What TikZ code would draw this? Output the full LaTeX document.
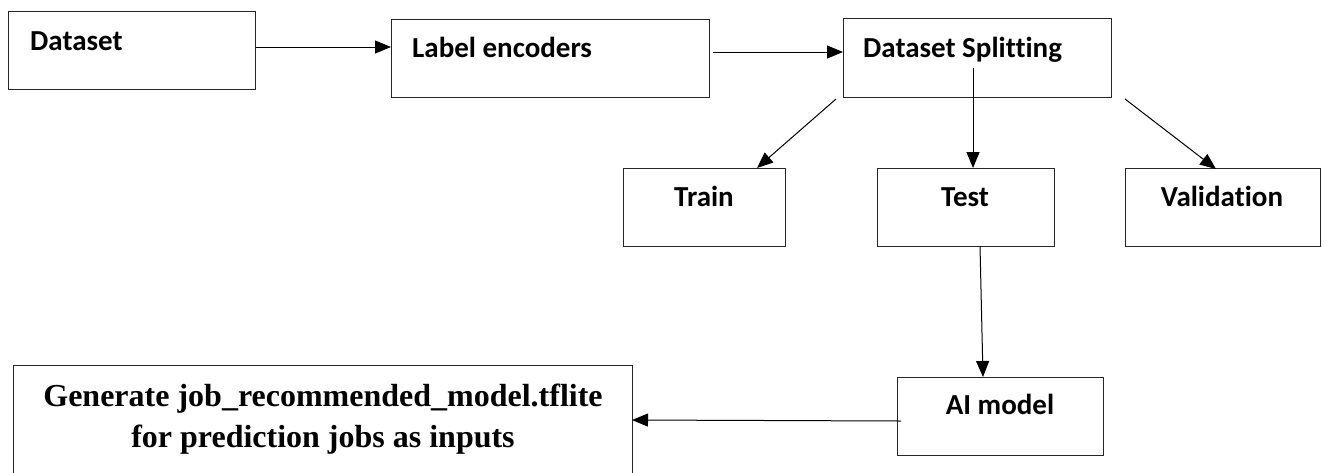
\documentclass[tikz,border=0pt]{standalone}
\usepackage{fontspec}
\setmainfont[Ligatures=NoCommon]{Carlito}
\newfontfamily\tnr{Liberation Serif}
\usetikzlibrary{arrows.meta}
\tikzset{
  box/.style={draw=black!85, line width=1.3pt, rectangle, inner sep=0pt, anchor=north west},
  lbl/.style={inner sep=0pt, font=\fontsize{29}{32}\selectfont\bfseries},
  glbl/.style={inner sep=0pt, anchor=base, font=\tnr\fontsize{32}{30}\selectfont\bfseries},
  conn/.style={draw=black, line width=1pt, -{Triangle[length=16pt,width=13pt]}}
}
\begin{document}
\begin{tikzpicture}[x=1pt,y=-1pt]
\useasboundingbox (0,0) rectangle (1324,472);
\clip (0,0) rectangle (1324,472);
% boxes
\node[box, minimum width=247pt, minimum height=78pt] (data) at (8,11) {};
\node[lbl, anchor=base west] (datat) at (30,50) {Dataset};
\node[box, minimum width=318pt, minimum height=78pt] (enc) at (391,19) {};
\node[lbl, anchor=base west] (enct) at (412,57) {Label encoders};
\node[box, minimum width=268pt, minimum height=79pt] (split) at (843,18) {};
\node[lbl, anchor=base west] (splitt) at (863,57) {Dataset Splitting};
\node[box, minimum width=162pt, minimum height=78pt] (train) at (623,168) {};
\node[lbl, anchor=base] (traint) at (704,206) {Train};
\node[box, minimum width=177pt, minimum height=78pt] (test) at (877,168) {};
\node[lbl, anchor=base] (testt) at (965,206) {Test};
\node[box, minimum width=195pt, minimum height=78pt] (val) at (1125,168) {};
\node[lbl, anchor=base] (valt) at (1222,206) {Validation};
\node[box, minimum width=206pt, minimum height=78pt] (ai) at (897,377) {};
\node[lbl, anchor=base] (ait) at (1000,414) {AI model};
\node[box, minimum width=619pt, minimum height=120pt] (gen) at (13,365) {};
\node[glbl] (gent1) at (323,406) {Generate job\_recommended\_model.tflite};
\node[glbl] (gent2) at (323,447) {for prediction jobs as inputs};
% connector end points
\coordinate (s1) at (836,99);
\coordinate (e1) at (757,168);
\coordinate (s2) at (973,68);
\coordinate (e2) at (973,168);
\coordinate (s3) at (1125,99);
\coordinate (e3) at (1216,169);
\coordinate (s4) at (980,246);
\coordinate (e4) at (983,377);
\coordinate (s5) at (901,421);
\coordinate (e5) at (632,420);
% connectors
\draw[conn] (data.east |- 0,47) -- (enc.west |- 0,47);
\draw[conn] (713,52) -- (split.west |- 0,52);
\draw[conn] (s1) -- (e1);
\draw[conn] (s2) -- (e2);
\draw[conn] (s3) -- (e3);
\draw[conn] (s4) -- (e4);
\draw[conn] (s5) -- (e5);
\end{tikzpicture}
\end{document}
